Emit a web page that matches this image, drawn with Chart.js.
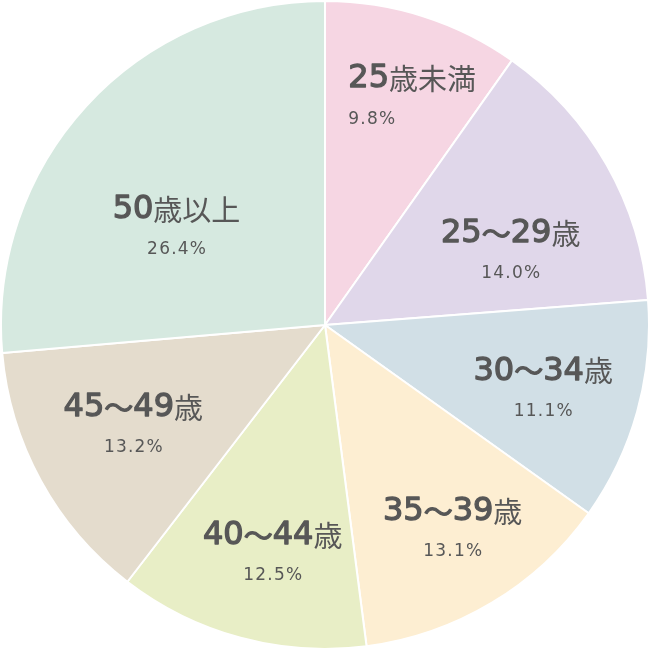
<!DOCTYPE html>
<html>
<head>
<meta charset="utf-8">
<script src="https://cdn.jsdelivr.net/npm/chart.js@4"></script>
<style>
  html, body { margin: 0; padding: 0; background: #fff; }
  #wrap { width: 650px; height: 650px; position: relative; }
</style>
</head>
<body>
<div id="wrap"><canvas id="pie"></canvas></div>
<script>
  // chart data
  const categories = ["25歳未満", "25〜29歳", "30〜34歳", "35〜39歳", "40〜44歳", "45〜49歳", "50歳以上"];
  const shares = [9.8, 14.0, 11.1, 13.1, 12.5, 13.2, 26.4];
  const colors = ["#f6d6e3", "#e0d7ea", "#d1dfe6", "#fdeed2", "#e8eec6", "#e4dccd", "#d6e9e0"];
  // label placement: distance from centre (fraction of radius) and angle nudge (deg)
  const labelRadius = [0.75, 0.615, 0.703, 0.747, 0.728, 0.67, 0.546];
  const labelShift = [3.4, 8.3, 1.1, -0.9, -2.3, 0.7, -9.6];

  const TEXT = "#575757";
  const LATIN = '"DejaVu Sans", sans-serif';
  const CJK = '"Noto Sans CJK JP", sans-serif';

  // draws "25歳未満" style text: latin digits heavier, kanji normal
  const drawMixed = (ctx, text, cx, y) => {
    const runs = [];
    for (const ch of text) {
      const latin = /[0-9A-Za-z]/.test(ch);
      const last = runs[runs.length - 1];
      if (last && last.latin === latin) last.s += ch;
      else runs.push({ s: ch, latin });
    }
    const fontOf = (r) => r.latin ? `normal 32px ${LATIN}` : `normal 29px ${CJK}`;
    let total = 0;
    for (const r of runs) {
      ctx.font = fontOf(r);
      r.w = ctx.measureText(r.s).width;
      total += r.w;
    }
    let x = cx - total / 2;
    ctx.textAlign = "left";
    for (const r of runs) {
      ctx.font = fontOf(r);
      ctx.fillText(r.s, x, y);
      if (r.latin) {
        ctx.lineWidth = 1.3;
        ctx.strokeText(r.s, x, y);
      } else if (r.s.includes("〜")) {
        ctx.lineWidth = 1.2;
        ctx.strokeText("〜", x, y);
      }
      x += r.w;
    }
    return cx - total / 2;
  };

  const labelPlugin = {
    id: "sliceLabels",
    afterDatasetsDraw(chart) {
      const ctx = chart.ctx;
      const meta = chart.getDatasetMeta(0);
      ctx.save();
      ctx.fillStyle = TEXT;
      ctx.strokeStyle = TEXT;
      ctx.lineJoin = "round";
      ctx.textBaseline = "middle";
      meta.data.forEach((arc, i) => {
        const { x, y, startAngle, endAngle, outerRadius } = arc.getProps(
          ["x", "y", "startAngle", "endAngle", "outerRadius"], true);
        const mid = (startAngle + endAngle) / 2 + labelShift[i] * Math.PI / 180;
        const r = outerRadius * labelRadius[i];
        const lx = x + Math.cos(mid) * r;
        const ly = y + Math.sin(mid) * r;
        const left = drawMixed(ctx, categories[i], lx, ly - 19);
        ctx.font = `normal 17px ${LATIN}`;
        ctx.letterSpacing = "1.2px";
        const pct = shares[i].toFixed(1) + "%";
        if (i === 0) {
          ctx.textAlign = "left";
          ctx.fillText(pct, left, ly + 21);
        } else {
          ctx.textAlign = "center";
          ctx.fillText(pct, lx + 0.6, ly + 21);
        }
        ctx.letterSpacing = "0px";
      });
      ctx.restore();
    },
  };

  new Chart(document.getElementById("pie"), {
    type: "pie",
    data: {
      labels: categories,
      datasets: [{
        data: shares,
        backgroundColor: colors,
        borderColor: "#ffffff",
        borderWidth: 2,
      }],
    },
    options: {
      responsive: true,
      maintainAspectRatio: false,
      animation: false,
      layout: { padding: 0 },
      plugins: {
        legend: { display: false },
        tooltip: { enabled: false },
      },
    },
    plugins: [labelPlugin],
  });
</script>
</body>
</html>
